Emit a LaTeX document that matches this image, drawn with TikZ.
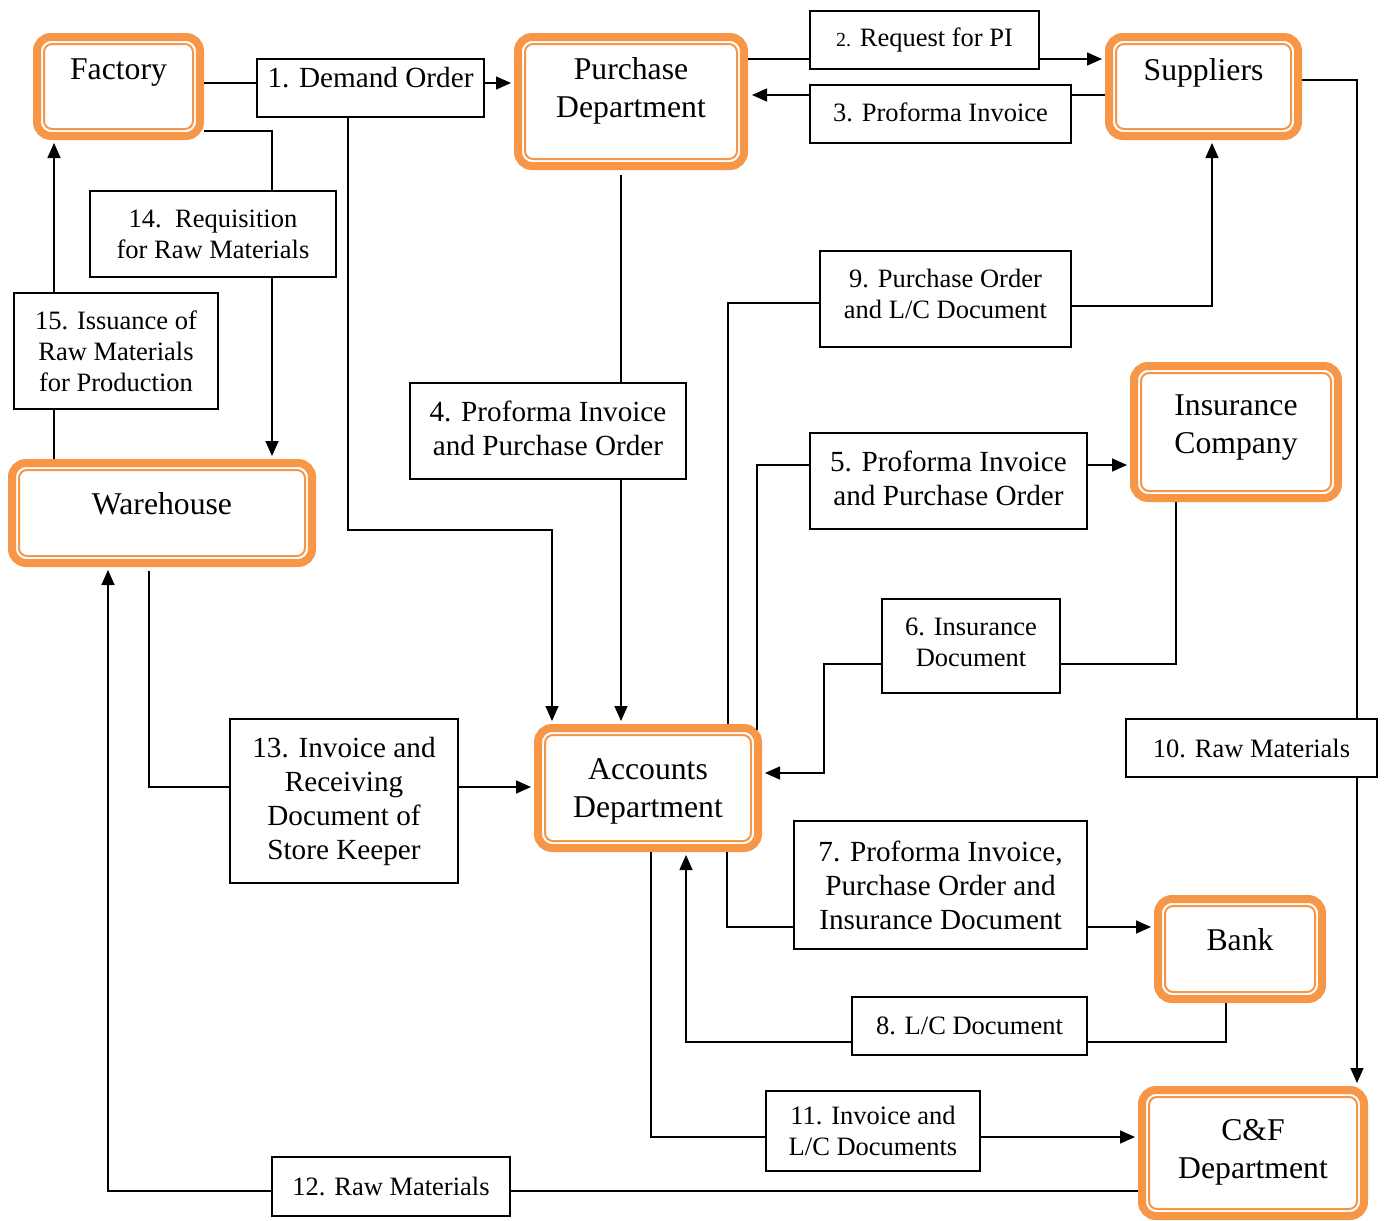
\documentclass[tikz,border=0pt]{standalone}
\usepackage{fontspec}
\setmainfont{Liberation Serif}
\usetikzlibrary{arrows.meta,calc}
\definecolor{orng}{HTML}{F79646}
\newcommand\boxfont{\fontsize{31.7}{38}\selectfont}
\newcommand\labfontL{\fontsize{29.2}{34}\selectfont}
\newcommand\labfontS{\fontsize{26.5}{31}\selectfont}
\begin{document}
\begin{tikzpicture}[x=1pt,y=-1pt,
  unit box/.style={draw=orng, line width=8pt, rounded corners=14pt, fill=white,
    outer sep=4pt, inner sep=0pt},
  unit inner/.style={draw=orng, line width=2pt, rounded corners=8pt},
  unit text/.style={font=\boxfont, align=center, inner sep=0pt},
  lab/.style={draw, line width=1.4pt, fill=white, inner sep=0pt, align=center},
  big/.style={lab, font=\labfontL},
  small/.style={lab, font=\labfontS},
  conn/.style={line width=1.5pt},
  arr/.style={conn, -{Triangle[length=15pt,width=13pt]}, shorten >=3pt}]

\useasboundingbox (0,0) rectangle (1385,1221);

% organisational units
\node[unit box, minimum width=163pt, minimum height=99pt]  (fac)  at (118.5,86.5) {};
\node[unit box, minimum width=226pt, minimum height=129pt] (pur)  at (631,101.5) {};
\node[unit box, minimum width=189pt, minimum height=99pt]  (sup)  at (1203.5,86.5) {};
\node[unit box, minimum width=204pt, minimum height=132pt] (ins)  at (1236,432) {};
\node[unit box, minimum width=300pt, minimum height=100pt] (wh)   at (162,513) {};
\node[unit box, minimum width=220pt, minimum height=120pt] (acc)  at (648,788) {};
\node[unit box, minimum width=164pt, minimum height=100pt] (bank) at (1240,949) {};
\node[unit box, minimum width=222pt, minimum height=126pt] (cf)   at (1253,1153) {};

\foreach \n in {fac,pur,sup,ins,wh,acc,bank,cf}
  \draw[unit inner] ($(\n.north west)+(11,11)$) rectangle ($(\n.south east)+(-11,-11)$);

\node[unit text] (facT)  at (118.5,73)  {Factory};
\node[unit text] (purT)  at (631,91)    {Purchase\\Department};
\node[unit text] (supT)  at (1203.5,73) {Suppliers};
\node[unit text] (insT)  at (1236,428)  {Insurance\\Company};
\node[unit text] (whT)   at (162,504)   {Warehouse};
\node[unit text] (accT)  at (648,791)   {Accounts\\Department};
\node[unit text] (bankT) at (1240,940)  {Bank};
\node[unit text] (cfT)   at (1253,1152) {C\&F\\Department};

% document / material labels
\node[big, minimum width=227pt, minimum height=58pt, text height=21pt, text depth=22pt]
  (n1) at (370.5,88) {1. Demand Order};
\node[small, minimum width=229pt, minimum height=58pt]  (n2)  at (924.5,40)   {{\fontsize{20}{24}\selectfont 2.} Request for PI};
\node[small, minimum width=261pt, minimum height=58pt, text depth=4pt]  (n3)  at (940.5,114)  {3. Proforma Invoice};
\node[big,   minimum width=276pt, minimum height=96pt, text depth=6pt]  (n4)  at (548,431)    {4. Proforma Invoice\\and Purchase Order};
\node[big,   minimum width=277pt, minimum height=96pt, text depth=6pt]  (n5)  at (948.5,481)  {5. Proforma Invoice\\and Purchase Order};
\node[small, minimum width=178pt, minimum height=94pt, text depth=7pt]  (n6)  at (971,646)    {6. Insurance\\Document};
\node[big,   minimum width=293pt, minimum height=128pt] (n7)  at (940.5,885)  {7. Proforma Invoice,\\Purchase Order and\\Insurance Document};
\node[small, minimum width=235pt, minimum height=58pt]  (n8)  at (969.5,1026) {8. L/C Document};
\node[small, minimum width=251pt, minimum height=96pt, text depth=10pt]  (n9)  at (945.5,299)  {9. Purchase Order\\and L/C Document};
\node[small, minimum width=251pt, minimum height=58pt]  (n10) at (1251.5,748) {10. Raw Materials};
\node[small, minimum width=214pt, minimum height=80pt]  (n11) at (873,1131)   {11. Invoice and\\L/C Documents};
\node[small, minimum width=238pt, minimum height=59pt]  (n12) at (391,1186.5) {12. Raw Materials};
\node[big,   minimum width=228pt, minimum height=164pt] (n13) at (344,801)    {13. Invoice and\\Receiving\\Document of\\Store Keeper};
\node[small, minimum width=246pt, minimum height=86pt]  (n14) at (213,234)    {14.\ \ Requisition\\for Raw Materials};
\node[small, minimum width=204pt, minimum height=116pt] (n15) at (116,351)    {15. Issuance of\\Raw Materials\\for Production};

% 1. demand order
\draw[conn] (fac.east |- 0,83) -- (n1.west |- 0,83);
\draw[arr]  (n1.east |- 0,83) -- (pur.west |- 0,83);
\draw[arr]  (n1.south -| 348,0) |- (552,530) -- (acc.north -| 552,0);
% 2. request for PI
\draw[conn] (pur.east |- 0,59) -- (n2.west |- 0,59);
\draw[arr]  (n2.east |- 0,59) -- (sup.west |- 0,59);
% 3. proforma invoice
\draw[conn] (sup.west |- 0,95) -- (n3.east |- 0,95);
\draw[arr, shorten >=4pt] (n3.west |- 0,95) -- (pur.east |- 0,95);
% 4. proforma invoice and purchase order to accounts
\draw[conn, shorten <=5pt] (pur.south -| 621,0) -- (n4.north -| 621,0);
\draw[arr]  (n4.south -| 621,0) -- (acc.north -| 621,0);
% 5. to insurance company
\draw[conn] ($(acc.north -| 757,0)+(0,6)$) |- (n5.west |- 0,465);
\draw[arr]  (n5.east |- 0,465) -- (ins.west |- 0,465);
% 6. insurance document
\draw[conn] (ins.south -| 1176,0) |- (n6.east |- 0,664);
\draw[arr]  (n6.west |- 0,664) -| (824,773) -- (acc.east |- 0,773);
% 7. to bank
\draw[conn] (acc.south -| 727,0) |- (n7.west |- 0,927);
\draw[arr]  (n7.east |- 0,927) -- (bank.west |- 0,927);
% 8. L/C document
\draw[conn] (bank.south -| 1226,0) |- (n8.east |- 0,1042);
\draw[arr]  (n8.west |- 0,1042) -| (acc.south -| 686,0);
% 9. purchase order and L/C document
\draw[conn] (acc.north -| 728,0) |- (n9.west |- 0,303);
\draw[arr]  (n9.east |- 0,306) -| (sup.south -| 1212,0);
% 10. raw materials to C&F
\draw[conn] (sup.east |- 0,80) -| (n10.north -| 1357,0);
\draw[arr]  (n10.south -| 1357,0) -- (cf.north -| 1357,0);
% 11. invoice and L/C documents
\draw[conn] (acc.south -| 651,0) |- (n11.west |- 0,1137);
\draw[arr]  (n11.east |- 0,1137) -- (cf.west |- 0,1137);
% 12. raw materials to warehouse
\draw[conn] (cf.west |- 0,1191) -- (n12.east |- 0,1191);
\draw[arr]  (n12.west |- 0,1191) -| (wh.south -| 108,0);
% 13. receiving documents
\draw[conn, shorten <=4pt] (wh.south -| 149,0) |- (n13.west |- 0,787);
\draw[arr]  (n13.east |- 0,787) -- (acc.west |- 0,787);
% 14. requisition
\draw[conn] (fac.east |- 0,131) -| (n14.north -| 272,0);
\draw[arr]  (n14.south -| 272,0) -- (wh.north -| 272,0);
% 15. issuance for production
\draw[conn] (wh.north -| 54,0) -- (n15.south -| 54,0);
\draw[arr]  (n15.north -| 54,0) -- (fac.south -| 54,0);
\end{tikzpicture}
\end{document}
